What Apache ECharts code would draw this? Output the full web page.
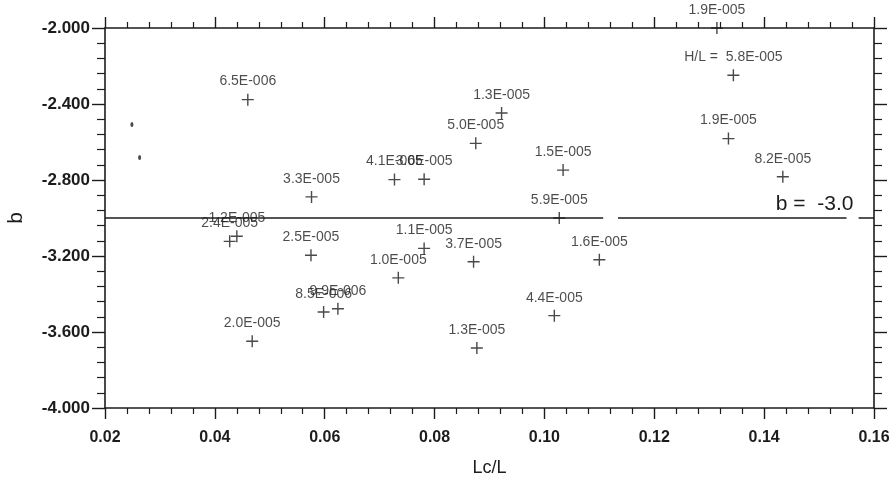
<!DOCTYPE html>
<html>
<head>
<meta charset="utf-8">
<title>b vs Lc/L</title>
<script src="https://cdn.jsdelivr.net/npm/echarts@6/dist/echarts.min.js"></script>
<style>
  html, body { margin: 0; padding: 0; background: #ffffff; }
  #chart { width: 893px; height: 480px; }
</style>
</head>
<body>
<div id="chart"></div>
<script>
// Lc/L of each test
const lcL = [
  0.0460, 0.0576, 0.0727, 0.0781, 0.0575, 0.0781, 0.0734, 0.0598,
  0.0624, 0.0468, 0.0922, 0.0875, 0.1034, 0.1027, 0.0871, 0.1100,
  0.1018, 0.0877, 0.1344, 0.1335, 0.1434, 0.1314, 0.0427, 0.0440
];
// fitted exponent b
const bValues = [
  -2.377, -2.889, -2.798, -2.796, -3.196, -3.160, -3.315, -3.495,
  -3.478, -3.649, -2.447, -2.607, -2.748, -3.000, -3.230, -3.220,
  -3.514, -3.684, -2.249, -2.582, -2.783, -2.000, -3.123, -3.096
];
// H/L of each test, printed above its point
const hlLabels = [
  '6.5E-006', '3.3E-005', '4.1E-005', '3.6E-005', '2.5E-005', '1.1E-005', '1.0E-005', '8.5E-006',
  '9.9E-006', '2.0E-005', '1.3E-005', '5.0E-005', '1.5E-005', '5.9E-005', '3.7E-005', '1.6E-005',
  '4.4E-005', '1.3E-005', '5.8E-005', '1.9E-005', '8.2E-005', '1.9E-005', '2.4E-005', '1.2E-005'
];
// the point whose label carries the "H/L =" caption
const captionIndex = 18;
const captionPrefix = 'H/L =  ';

// two stray dots near the left edge
const dotLcL = [0.0249, 0.0263];
const dotB = [-2.508, -2.682];

// reference level b = -3.0, drawn as broken segments
const refB = -3.0;
const refText = 'b =  -3.0';
const refSegments = [[0.0200, 0.1107], [0.1134, 0.1550], [0.1572, 0.1600]];

// axis ranges and tick labels
const xTicks = ['0.02', '0.04', '0.06', '0.08', '0.10', '0.12', '0.14', '0.16'];
const yTicks = ['-4.000', '-3.600', '-3.200', '-2.800', '-2.400', '-2.000'];

const ink = '#1c1c1c';
const plusPath = 'path://M5.3,0H6.7V12H5.3Z M0,5.3H12V6.7H0Z';
const fontFamily = 'Liberation Sans, Arial, sans-serif';

const chart = echarts.init(document.getElementById('chart'), null, { renderer: 'canvas' });

const xMin = Number(xTicks[0]), xMax = Number(xTicks[xTicks.length - 1]);
const yMin = Number(yTicks[0]), yMax = Number(yTicks[yTicks.length - 1]);

const pointData = lcL.map((x, i) => {
  const item = { value: [x, bValues[i]], name: hlLabels[i] };
  if (i === captionIndex) {
    item.label = { formatter: captionPrefix + hlLabels[i], offset: [-22, 0] };
  }
  return item;
});

const axisLineStyle = { color: ink, width: 1.6 };

function xAxisCfg(position, showLabels) {
  return {
    type: 'value', position: position,
    min: xMin, max: xMax, interval: 0.02,
    axisLine: { show: true, onZero: false, lineStyle: axisLineStyle },
    axisTick: { show: true, inside: false, length: 11, lineStyle: { color: ink, width: 1.4 } },
    minorTick: { show: true, splitNumber: 5, length: 6, lineStyle: { color: ink, width: 1.2 } },
    splitLine: { show: false },
    axisLabel: showLabels ? {
      show: true, margin: 22, color: ink,
      fontFamily: fontFamily, fontSize: 16, fontWeight: 'bold',
      formatter: v => {
        const idx = Math.round((v - xMin) / 0.02);
        return xTicks[idx] !== undefined ? xTicks[idx] : '';
      }
    } : { show: false },
    name: showLabels ? 'Lc/L' : '',
    nameLocation: 'middle', nameGap: 51,
    nameTextStyle: { color: ink, fontFamily: fontFamily, fontSize: 18 }
  };
}

function yAxisCfg(position, showLabels) {
  return {
    type: 'value', position: position,
    min: yMin, max: yMax, interval: 0.4,
    axisLine: { show: true, onZero: false, lineStyle: axisLineStyle },
    axisTick: { show: true, inside: false, length: 13, lineStyle: { color: ink, width: 1.4 } },
    minorTick: { show: true, splitNumber: 5, length: 8, lineStyle: { color: ink, width: 1.2 } },
    splitLine: { show: false },
    axisLabel: showLabels ? {
      show: true, margin: 15, color: ink,
      fontFamily: fontFamily, fontSize: 17, fontWeight: 'bold',
      formatter: v => {
        const idx = Math.round((v - yMin) / 0.4);
        return yTicks[idx] !== undefined ? yTicks[idx] : '';
      }
    } : { show: false },
    name: showLabels ? 'b' : '',
    nameLocation: 'middle', nameGap: 78, nameRotate: 90,
    nameTextStyle: { color: ink, fontFamily: fontFamily, fontSize: 21 }
  };
}

const refSeries = refSegments.map((seg, k) => ({
  type: 'line', xAxisIndex: 0, yAxisIndex: 0,
  data: [[seg[0], refB], [seg[1], refB]],
  symbol: 'none', silent: true, animation: false,
  lineStyle: { color: ink, width: 1.4 },
  z: 2,
  markPoint: k === 1 ? {
    symbol: 'rect', symbolSize: 0,
    data: [{ coord: [0.1492, refB] }],
    label: {
      show: true, position: 'top', distance: 3, formatter: refText, color: ink,
      fontFamily: fontFamily, fontSize: 21
    }
  } : undefined
}));

chart.setOption({
  backgroundColor: '#ffffff',
  animation: false,
  grid: { left: 105, right: 19, top: 28, bottom: 72, containLabel: false, outerBoundsMode: 'none' },
  xAxis: [xAxisCfg('bottom', true), xAxisCfg('top', false)],
  yAxis: [yAxisCfg('left', true), yAxisCfg('right', false)],
  series: [
    ...refSeries,
    {
      type: 'scatter', xAxisIndex: 0, yAxisIndex: 0,
      data: pointData,
      symbol: plusPath, symbolSize: 12,
      itemStyle: { color: ink },
      clip: false,
      label: {
        show: true, position: 'top', distance: 5,
        formatter: p => p.name,
        color: '#1e1e1e',
        fontFamily: fontFamily, fontSize: 14
      },
      labelLayout: { hideOverlap: false },
      z: 5
    },
    {
      type: 'scatter', xAxisIndex: 0, yAxisIndex: 0,
      data: dotLcL.map((x, i) => [x, dotB[i]]),
      symbol: 'circle', symbolSize: [3, 5],
      itemStyle: { color: ink },
      z: 5
    }
  ]
});
</script>
</body>
</html>
